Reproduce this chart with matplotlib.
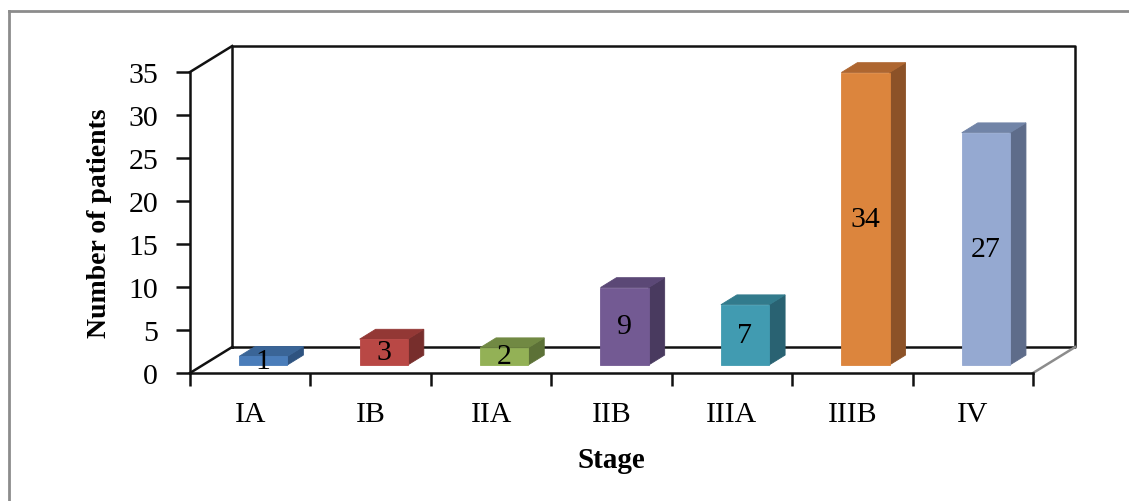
import matplotlib
matplotlib.use("Agg")
import matplotlib.pyplot as plt
from matplotlib.patches import Polygon
from matplotlib.lines import Line2D

# ---- data ----
stages = ["IA", "IB", "IIA", "IIB", "IIIA", "IIIB", "IV"]
patients = [1, 3, 2, 9, 7, 34, 27]
y_ticks = [0, 5, 10, 15, 20, 25, 30, 35]
front_colors = ["#4A7DBA", "#B94845", "#93B156", "#735A93", "#419BB1", "#DC853D", "#95A9D1"]
top_colors = ["#3A6597", "#933835", "#718943", "#5B4876", "#327B8C", "#AE6630", "#7184A7"]
side_colors = ["#2E5380", "#772E2C", "#5C7137", "#493A5F", "#296272", "#8C5228", "#5E6C8A"]

SERIF = ["Liberation Serif", "DejaVu Serif"]
plt.rcParams["font.family"] = SERIF

W, H = 1129, 502
fig = plt.figure(figsize=(W / 100, H / 100), dpi=100)
fig.patch.set_facecolor("white")

# outer chart border (top and left visible)
fig.add_artist(Line2D([9 / W, 9 / W], [0, 1 - 12 / H], transform=fig.transFigure,
                      color="#8C8C8C", lw=2))
fig.add_artist(Line2D([9 / W, 1], [1 - 12 / H, 1 - 12 / H], transform=fig.transFigure,
                      color="#8C8C8C", lw=2))

ax = fig.add_axes([190 / W, (H - 374) / H, 843 / W, 301 / H])
n = len(stages)
ymax = 35
ax.set_xlim(0, n)
ax.set_ylim(0, ymax)
ax.set_facecolor("none")

# oblique depth projection (in data units)
DX, DY = 0.35, 3.02


def proj(x, y, d):
    return (x + DX * d, y + DY * d)


line_kw = dict(color="#111111", lw=1.8, clip_on=False, solid_capstyle="projecting")
# back wall
bx = [proj(0, 0, 1), proj(n, 0, 1), proj(n, ymax, 1), proj(0, ymax, 1), proj(0, 0, 1)]
ax.plot([p[0] for p in bx], [p[1] for p in bx], zorder=1, **line_kw)
# left side wall diagonals
for yy in (0, ymax):
    a, b = proj(0, yy, 0), proj(0, yy, 1)
    ax.plot([a[0], b[0]], [a[1], b[1]], zorder=1, **line_kw)
# right floor diagonal (grey)
a, b = proj(n, 0, 0), proj(n, 0, 1)
ax.plot([a[0], b[0]], [a[1], b[1]], color="#8C8C8C", lw=1.8, clip_on=False, zorder=1)

# bars
d0, d1 = 0.31, 0.69
for i, (v, fc, tc, sc) in enumerate(zip(patients, front_colors, top_colors, side_colors)):
    xl, xr = i + 0.3, i + 0.7
    side = [proj(xr, 0, d0), proj(xr, v, d0), proj(xr, v, d1), proj(xr, 0, d1)]
    top = [proj(xl, v, d0), proj(xr, v, d0), proj(xr, v, d1), proj(xl, v, d1)]
    front = [proj(xl, 0, d0), proj(xr, 0, d0), proj(xr, v, d0), proj(xl, v, d0)]
    for pts, c in ((side, sc), (top, tc), (front, fc)):
        ax.add_patch(Polygon(pts, closed=True, facecolor=c, edgecolor=c, lw=0.6,
                             zorder=3, clip_on=False))
    cx, cy = proj(i + 0.5, v / 2, d0)
    ax.text(cx, cy, str(v), ha="center", va="center", fontsize=21.5,
            color="black", zorder=5, clip_on=False)

# front axes
for s in ("top", "right"):
    ax.spines[s].set_visible(False)
for s in ("left", "bottom"):
    ax.spines[s].set_linewidth(1.8)
    ax.spines[s].set_color("#111111")
    ax.spines[s].set_zorder(2)

ax.set_yticks(y_ticks)
ax.set_yticklabels([str(t) for t in y_ticks])
ax.tick_params(axis="y", direction="out", length=10, width=1.8, pad=13,
               labelsize=21.5, color="#111111")
ax.set_xticks(range(n + 1))
ax.set_xticklabels([""] * (n + 1))
ax.tick_params(axis="x", which="major", direction="out", length=9, width=1.8,
               color="#111111")
ax.set_xticks([i + 0.5 for i in range(n)], minor=True)
ax.set_xticklabels(stages, minor=True)
ax.tick_params(axis="x", which="minor", length=0, pad=20, labelsize=21.5)

ax.set_ylabel("Number of patients", fontsize=20, fontweight="bold", labelpad=12)
ax.set_xlabel("Stage", fontsize=21, fontweight="bold", labelpad=14)

fig.savefig("out.png", dpi=100, facecolor="white")
